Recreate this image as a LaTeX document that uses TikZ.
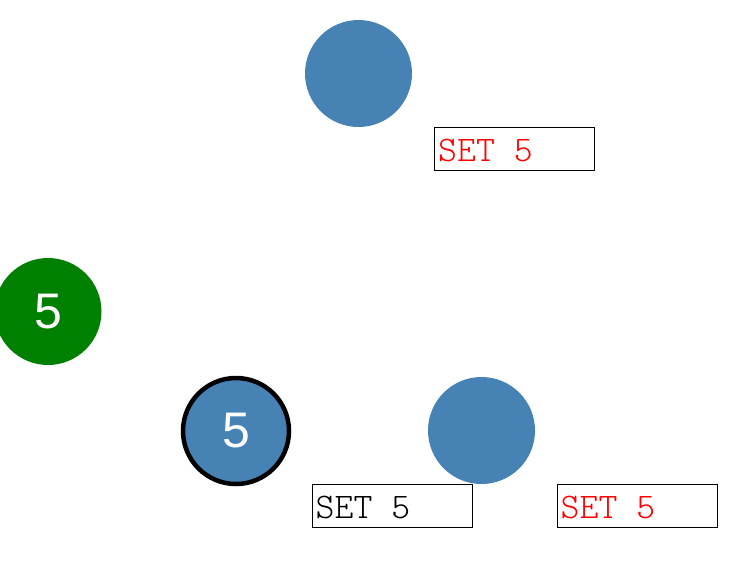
\documentclass[tikz,border=0pt]{standalone}
\usepackage{fontspec}
\newfontfamily\numfont{Liberation Sans}
\newfontfamily\monolight{Latin Modern Mono Light}
\definecolor{steel}{HTML}{4682B4}
\definecolor{grn}{HTML}{008000}
\begin{document}
\begin{tikzpicture}[x=1pt,y=-1pt,
  dot/.style={circle,fill=steel,minimum size=107pt,inner sep=0pt,font=\numfont\fontsize{50}{50}\selectfont,text=white},
  lbl/.style={draw=black,line width=1pt,fill=white,minimum width=160pt,minimum height=43pt,inner sep=0pt},
  lbltext/.style={anchor=base west,inner sep=0pt,font=\monolight\fontsize{36}{36}\selectfont}]
\useasboundingbox (0,0) rectangle (738,560);
\node[dot] (top) at (358.5,73.5) {};
\node[dot,fill=grn] (g) at (48,311.5) {5};
\node[dot,draw=black,line width=4.5pt,minimum size=106pt] (b) at (236,431) {5};
\node[dot] (r) at (481.5,430.5) {};
\node[lbl] (box1) at (514.5,149) {};
\node[lbl] (box2) at (392,506) {};
\node[lbl] (box3) at (637,506) {};
\node[lbltext,text=red] (t1) at ([xshift=4pt,yshift=-12pt]box1.west) {SET 5};
\node[lbltext,text=black] (t2) at ([xshift=4pt,yshift=-12pt]box2.west) {SET 5};
\node[lbltext,text=red] (t3) at ([xshift=4pt,yshift=-12pt]box3.west) {SET 5};
\end{tikzpicture}
\end{document}
